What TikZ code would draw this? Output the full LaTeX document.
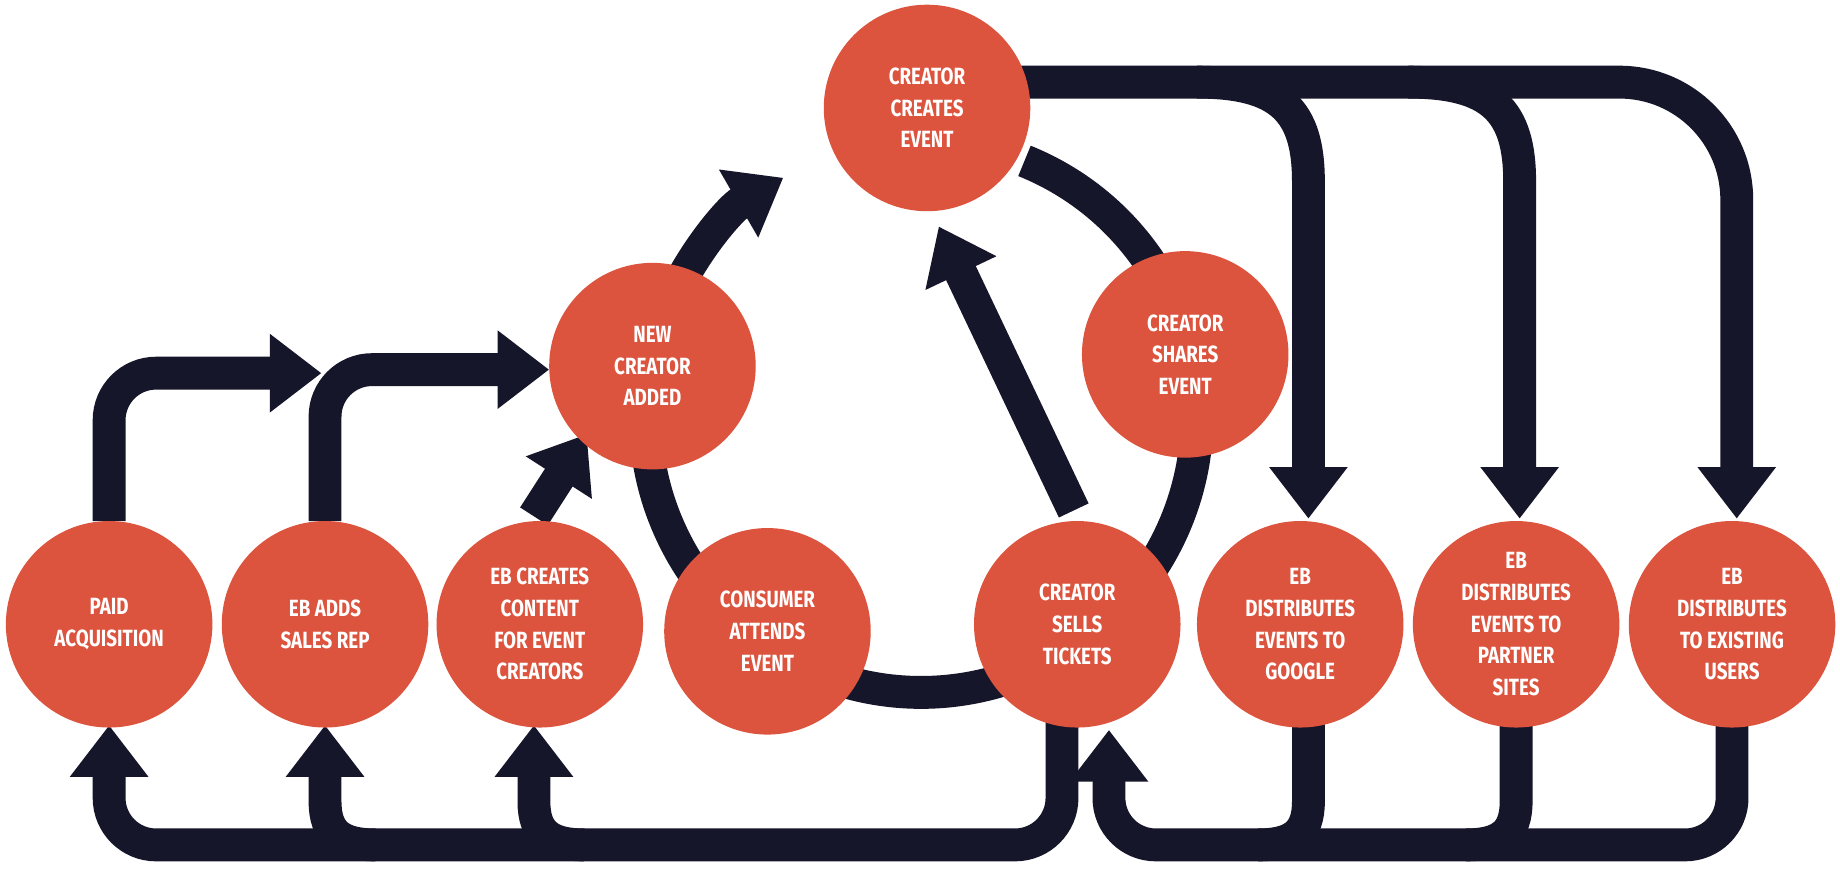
\documentclass[tikz,border=0pt]{standalone}
\usepackage{fontspec}
\setmainfont{Fira Sans}[FakeStretch=0.8]
\usetikzlibrary{arrows.meta}
\definecolor{org}{HTML}{DC533E}
\definecolor{nav}{HTML}{16162B}
\begin{document}
\begin{tikzpicture}[x=0.5pt,y=0.5pt,
  circ/.style={circle,fill=org,minimum size=88pt,inner sep=0pt,text=white,font=\bfseries\fontsize{10}{13.5}\selectfont,align=center},
  band/.style={draw=nav,line width=14pt},
  arr/.style={band,-{Triangle[width=32pt,length=22pt]}}]
\useasboundingbox[fill=white] (0,0) rectangle (1568,745);
\coordinate (c) at (785,390);
% loop
\draw[arr] ([shift={(68:235)}]c) arc[start angle=68,end angle=-240,radius=235];
% inner
\coordinate (s1) at (915,310);
\coordinate (s2) at (800,552);
\draw[arr] (s1) -- (s2);
% left arrows
\draw[arr,rounded corners=20pt] (93,301) -- (93,427) -- (274,427);
\draw[arr,rounded corners=20pt] (277,301) -- (277,430) -- (468,430);
\draw[arr] (455,305) -- (500,375);
% top
\draw[arr,rounded corners=50pt] (870,675) -- (1480,675) -- (1480,303);
\draw[arr] (1020,675) .. controls (1092,675) and (1115,650) .. (1115,590) -- (1115,303);
\draw[arr] (1200,675) .. controls (1272,675) and (1295,650) .. (1295,590) -- (1295,303);
% bottom left
\draw[arr,rounded corners=20pt] (905,140) -- (905,25) -- (93,25) -- (93,127);
\draw[arr] (320,25) .. controls (290,25) and (277,35) .. (277,62) -- (277,127);
\draw[arr] (498,25) .. controls (468,25) and (455,35) .. (455,62) -- (455,127);
% bottom right
\draw[arr,rounded corners=20pt] (1476,140) -- (1476,25) -- (945,25) -- (945,123);
\draw[band] (1115,140) -- (1115,62) .. controls (1115,35) and (1102,25) .. (1072,25);
\draw[band] (1292,140) -- (1292,62) .. controls (1292,35) and (1279,25) .. (1249,25);
% nodes
\node[circ] (paid) at (93,213) {PAID\\ACQUISITION};
\node[circ] (adds) at (277,213) {EB ADDS\\SALES REP};
\node[circ] (content) at (460,213) {EB CREATES\\CONTENT\\FOR EVENT\\CREATORS};
\node[circ] (consumer) at (654,207) {CONSUMER\\ATTENDS\\EVENT};
\node[circ] (sells) at (918,213) {CREATOR\\SELLS\\TICKETS};
\node[circ] (google) at (1108,213) {EB\\DISTRIBUTES\\EVENTS TO\\GOOGLE};
\node[circ] (partner) at (1292,213) {EB\\DISTRIBUTES\\EVENTS TO\\PARTNER\\SITES};
\node[circ] (users) at (1476,213) {EB\\DISTRIBUTES\\TO EXISTING\\USERS};
\node[circ] (new) at (556,433) {NEW\\CREATOR\\ADDED};
\node[circ] (creates) at (790,653) {CREATOR\\CREATES\\EVENT};
\node[circ] (shares) at (1010,443) {CREATOR\\SHARES\\EVENT};
\end{tikzpicture}
\end{document}
